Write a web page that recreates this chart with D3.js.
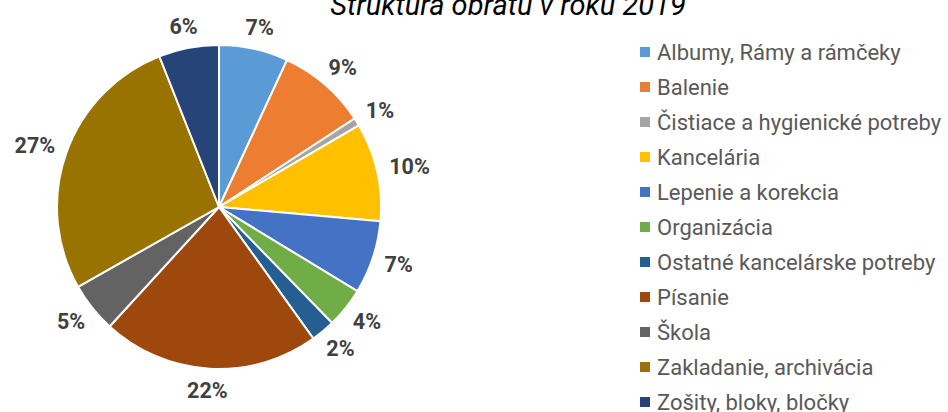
<!DOCTYPE html>
<html>
<head>
<meta charset="utf-8">
<script src="https://cdn.jsdelivr.net/npm/d3@7"></script>
<style>
  body { margin: 0; background: #fff; }
  svg { display: block; font-family: Roboto, "Noto Sans", sans-serif; }
</style>
</head>
<body>
<svg id="chart" width="948" height="412"></svg>
<script>
// chart data
const title = "Štruktúra obratu v roku 2019";
const categories = [
    "Albumy, Rámy a rámčeky",
    "Balenie",
    "Čistiace a hygienické potreby",
    "Kancelária",
    "Lepenie a korekcia",
    "Organizácia",
    "Ostatné kancelárske potreby",
    "Písanie",
    "Škola",
    "Zakladanie, archivácia",
    "Zošity, bloky, bločky"
];
const shares = [6.9, 8.9, 0.8, 9.8, 7.3, 4.0, 2.4, 21.7, 5.0, 27.2, 6.0];
const colors = ["#5B9BD5", "#ED7D31", "#A5A5A5", "#FFC000", "#4472C4", "#70AD47",
                "#255E91", "#9E480E", "#636363", "#997300", "#264478"];

const svg = d3.select("#chart");
const cx = 219, cy = 207, radius = 162;

const data = categories.map((c, i) => ({ name: c, value: shares[i], color: colors[i] }));
const total = d3.sum(shares);

const pie = d3.pie().value(d => d.value).sort(null);
const arc = d3.arc().innerRadius(0).outerRadius(radius);
const arcs = pie(data);

// title (partly cut at the top, like the original)
svg.append("text")
    .attr("x", 508)
    .attr("y", 15)
    .attr("text-anchor", "middle")
    .attr("font-size", 29)
    .attr("font-style", "italic")
    .attr("fill", "#000")
    .text(title);

const g = svg.append("g").attr("transform", `translate(${cx},${cy})`);

g.selectAll("path.slice")
    .data(arcs)
    .join("path")
    .attr("class", "slice")
    .attr("d", arc)
    .attr("fill", d => d.data.color)
    .attr("stroke", "#fff")
    .attr("stroke-width", 2);

// percentage labels, "outside end"
const labels = g.selectAll("text.pct")
    .data(arcs)
    .join("text")
    .attr("class", "pct")
    .attr("font-size", 21.5)
    .attr("font-weight", "bold")
    .attr("fill", "#404040")
    .attr("text-anchor", "middle")
    .attr("dominant-baseline", "central")
    .text(d => Math.round(d.data.value / total * 100) + "%");

labels.each(function (d) {
    const a = (d.startAngle + d.endAngle) / 2;
    const w = this.getComputedTextLength();
    const h = 18;
    const r = radius + 13;
    const x = Math.sin(a) * r + Math.sin(a) * w / 2;
    const y = -Math.cos(a) * r - Math.cos(a) * h / 2;
    d3.select(this).attr("x", x).attr("y", y);
});

// legend
const legend = svg.append("g").attr("transform", "translate(640,52)");
const rows = legend.selectAll("g.row")
    .data(data)
    .join("g")
    .attr("class", "row")
    .attr("transform", (d, i) => `translate(0,${i * 35})`);

rows.append("rect")
    .attr("x", 0)
    .attr("y", -5)
    .attr("width", 10)
    .attr("height", 10)
    .attr("fill", d => d.color);

rows.append("text")
    .attr("x", 17)
    .attr("y", 0)
    .attr("dominant-baseline", "central")
    .attr("font-size", 22)
    .attr("fill", "#595959")
    .text(d => d.name);
</script>
</body>
</html>
